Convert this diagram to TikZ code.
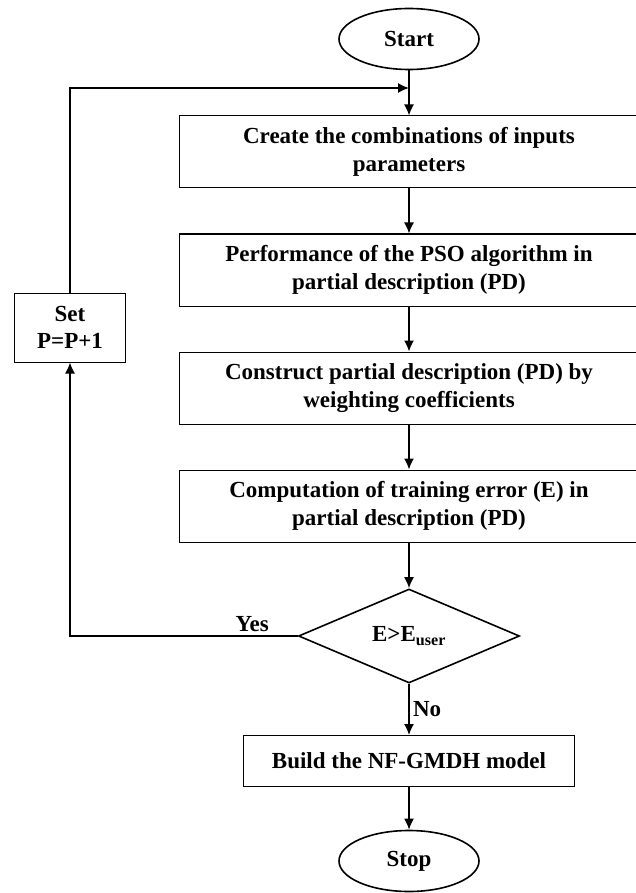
\documentclass[tikz,border=0pt]{standalone}
\usepackage{fontspec}
\setmainfont{Liberation Serif}
\usetikzlibrary{arrows,arrows.meta,shapes.geometric,positioning}
\tikzset{node distance=118pt, auto, >={Latex[length=11pt,width=10pt]}}

\begin{document}
\begin{tikzpicture}[x=1pt, y=1pt, auto, node distance=118pt,
		font=\fontsize{23}{27.6}\selectfont\bfseries,
		block/.style={draw, line width=1pt, minimum width=459pt, minimum height=72pt, align=center, inner sep=0pt},
		term/.style={draw, ellipse, line width=1.6pt, minimum width=140pt, minimum height=61pt, inner sep=0pt},
		test/.style={draw, diamond, line width=1.6pt, minimum width=221pt, minimum height=94pt, inner sep=0pt},
		flow/.style={->, line width=1.6pt}]
		\useasboundingbox (0,0) rectangle (636,-893);
		\node[term](start) at (409,-39){Start};
		\node[block](create)[below of=start, node distance=113pt]{Create the combinations of inputs\\parameters};
		\node[block](pso)[below of=create]{Performance of the PSO algorithm in\\partial description (PD)};
		\node[block](construct)[below of=pso]{Construct partial description (PD) by\\weighting coefficients};
		\node[block](error)[below of=construct]{Computation of training error (E) in\\partial description (PD)};
		\node[test](check)[below of=error, node distance=130pt]{E>E\textsubscript{user}};
		\node[block, minimum width=331pt, minimum height=51pt](build)[below of=check, node distance=125pt]{Build the NF-GMDH model};
		\node[term](stop)[below of=build, node distance=100pt]{Stop};
		\node[block, minimum width=111pt, minimum height=69pt](set) at (70,-327.5){Set\\P=P+1};
		\coordinate(join) at (409,-88);
		\draw[flow](start) to (create);
		\draw[flow](create) to (pso);
		\draw[flow](pso) to (construct);
		\draw[flow](construct) to (error);
		\draw[flow](error) to (check);
		\draw[flow](check) to node{No}(build);
		\draw[flow](build) to (stop);
		\draw[flow](check.west) -- node[pos=0.2, above]{Yes}(set.south |- check.west) -- (set.south);
		\draw[flow](set.north) |- (join);
	\end{tikzpicture}
\end{document}
